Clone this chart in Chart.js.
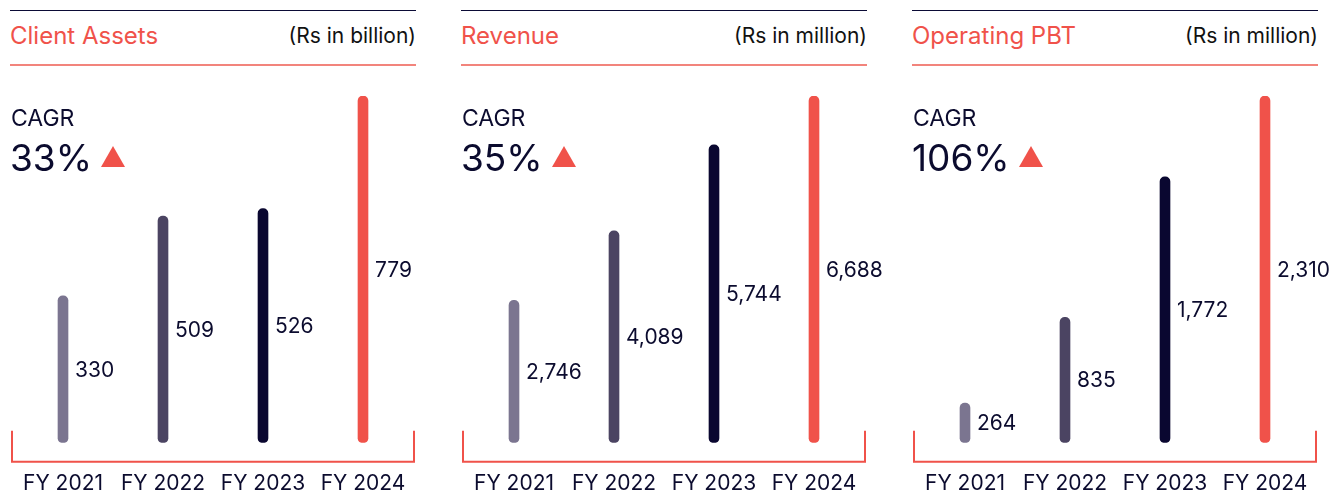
<!DOCTYPE html>
<html lang="en">
<head>
  <meta charset="UTF-8" />
  <title>Client Assets, Revenue, Operating PBT</title>
  <style>
    html, body {
      margin: 0;
      padding: 0;
      background: #fff;
      overflow: hidden;
      font-family: Inter, "Noto Sans", sans-serif;
    }
    .panel {
      position: absolute;
      top: 0;
      width: 406px;
      height: 492px;
    }
    .linea-top {
      position: absolute;
      left: 0; right: 0; top: 10px;
      height: 1px;
      background: #0b0b36;
    }
    .titulo {
      position: absolute;
      left: 0; top: 21px;
      font-size: 24px;
      color: #f0524a;
      line-height: 30px;
    }
    .unidad {
      position: absolute;
      right: 0; top: 22px;
      font-size: 21px;
      color: #111;
      line-height: 28px;
    }
    .linea-coral {
      position: absolute;
      left: 0; right: 0; top: 64px;
      height: 2px;
      background: #f2847c;
    }
    .cagr {
      position: absolute;
      left: 1px; top: 103px;
      font-size: 23px;
      color: #0b0b2e;
      line-height: 30px;
    }
    .cagr-valor {
      position: absolute;
      left: 0; top: 135px;
      font-size: 37px;
      color: #0b0b2e;
      line-height: 46px;
      white-space: nowrap;
    }
    .triangulo {
      display: inline-block;
      width: 0; height: 0;
      border-left: 12px solid transparent;
      border-right: 12px solid transparent;
      border-bottom: 21px solid #f0524a;
      margin-left: 9px;
      vertical-align: 4px;
    }
    canvas {
      position: absolute;
      left: 0;
      top: 90px;
    }
  </style>
</head>
<body>
  <div id="contenedor"></div>

  <script src="https://cdn.jsdelivr.net/npm/chart.js"></script>
  <script>
    const categories = ["FY 2021", "FY 2022", "FY 2023", "FY 2024"];
    const clientAssets = [330, 509, 526, 779];
    const revenue = [2746, 4089, 5744, 6688];
    const operatingPbt = [264, 835, 1772, 2310];

    const titles = ["Client Assets", "Revenue", "Operating PBT"];
    const units = ["(Rs in billion)", "(Rs in million)", "(Rs in million)"];
    const cagrs = ["33%", "35%", "106%"];
    const panelLeft = [10, 461, 912];

    const barColors = ["#7b7590", "#4b4462", "#0a0730", "#f0524a"];
    const series = [clientAssets, revenue, operatingPbt];

    // etiquetas de valor a la derecha de cada barra
    const valorPlugin = {
      id: "valores",
      afterDatasetsDraw(chart) {
        const ctx = chart.ctx;
        const meta = chart.getDatasetMeta(0);
        const data = chart.data.datasets[0].data;
        ctx.save();
        ctx.font = "21px Inter, 'Noto Sans', sans-serif";
        ctx.fillStyle = "#0b0b2e";
        ctx.textAlign = "left";
        ctx.textBaseline = "middle";
        meta.data.forEach((bar, i) => {
          const y = (bar.y + bar.base) / 2;
          ctx.fillText(data[i].toLocaleString("en-US"), bar.x + 12, y + 1);
        });
        ctx.restore();
      }
    };

    // corchete coral bajo las barras
    const corchetePlugin = {
      id: "corchete",
      afterDraw(chart) {
        const { ctx, chartArea } = chart;
        const base = chartArea.bottom + 19;
        ctx.save();
        ctx.strokeStyle = "#f0524a";
        ctx.lineWidth = 2;
        ctx.beginPath();
        ctx.moveTo(chartArea.left - 1, chartArea.bottom - 12);
        ctx.lineTo(chartArea.left - 1, base);
        ctx.lineTo(chartArea.right + 1, base);
        ctx.lineTo(chartArea.right + 1, chartArea.bottom - 12);
        ctx.stroke();
        ctx.restore();
      }
    };

    function crearPanel(i) {
      const panel = document.createElement("div");
      panel.className = "panel";
      panel.style.left = panelLeft[i] + "px";
      // canvas mas ancho que el panel para que quepa la etiqueta de FY 2024
      panel.innerHTML = `
        <div class="linea-top"></div>
        <div class="titulo">${titles[i]}</div>
        <div class="unidad">${units[i]}</div>
        <div class="linea-coral"></div>
        <canvas width="446" height="406"></canvas>
        <div class="cagr">CAGR</div>
        <div class="cagr-valor">${cagrs[i]}<span class="triangulo"></span></div>
      `;
      document.getElementById("contenedor").appendChild(panel);

      const data = series[i];
      new Chart(panel.querySelector("canvas"), {
        type: "bar",
        data: {
          labels: categories,
          datasets: [{
            data: data,
            backgroundColor: barColors,
            barThickness: 10,
            borderRadius: 5,
            borderSkipped: false
          }]
        },
        options: {
          responsive: false,
          animation: false,
          layout: { padding: { top: 6, left: 3, right: 43, bottom: 0 } },
          plugins: {
            legend: { display: false },
            tooltip: { enabled: false }
          },
          scales: {
            x: {
              grid: {
                display: true,
                drawOnChartArea: false,
                drawTicks: true,
                tickLength: 28,
                color: "rgba(0,0,0,0)"
              },
              border: { display: false },
              ticks: {
                color: "#0b0b2e",
                padding: 0,
                font: { family: "Inter, 'Noto Sans', sans-serif", size: 21 }
              }
            },
            y: {
              display: false,
              min: 0,
              max: Math.max(...data)
            }
          }
        },
        plugins: [valorPlugin, corchetePlugin]
      });
    }

    window.onload = () => {
      titles.forEach((_, i) => crearPanel(i));
    };
  </script>
</body>
</html>
